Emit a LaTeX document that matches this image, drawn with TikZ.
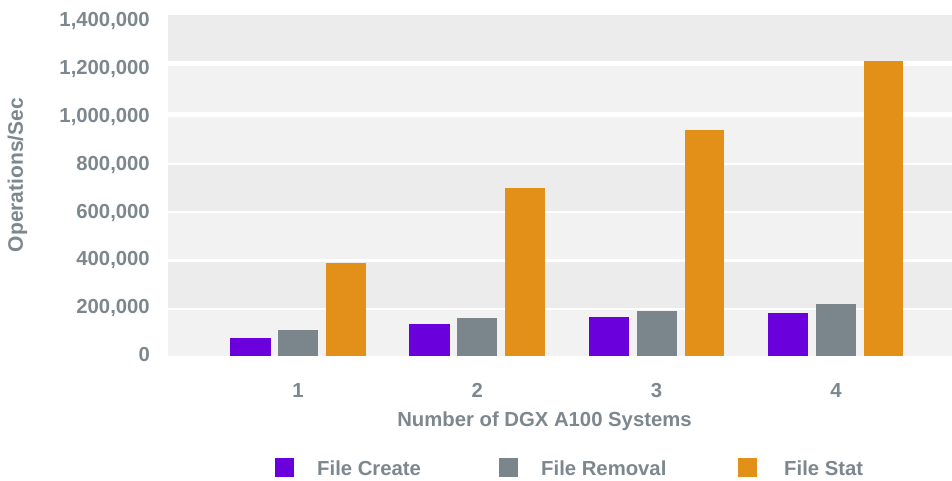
\documentclass[tikz,border=0pt]{standalone}
\usepackage{fontspec}
\setmainfont{Liberation Sans}
\definecolor{txtgray}{HTML}{7D888E}
\definecolor{bandA}{HTML}{ECECEC}
\definecolor{bandB}{HTML}{F2F2F2}
\definecolor{cCreate}{HTML}{6A00DC}
\definecolor{cRemove}{HTML}{7B868C}
\definecolor{cStat}{HTML}{E29017}
\tikzset{
  lbl/.style={font=\bfseries\fontsize{20.3}{22}\selectfont, text=txtgray, inner sep=0pt},
  ticklbl/.style={lbl, anchor=base east},
  legbox/.style={minimum width=19pt, minimum height=19pt, inner sep=0pt},
}
\begin{document}
\begin{tikzpicture}[x=1pt, y=-1pt]
\useasboundingbox (0,0) rectangle (952,481);
\fill[white] (0,0) rectangle (952,481);
% background bands between the grid values
\foreach \ya/\yb/\c in {15/61/bandA, 66/112/bandB, 117/163/bandB, 165/211/bandA,
                        213/259/bandB, 262/308/bandA, 310/356/bandB}
  \fill[\c] (168,\ya) rectangle (952,\yb);
% y tick labels
\foreach \v/\t in {0/0, 200/{200,000}, 400/{400,000}, 600/{600,000}, 800/{800,000},
                   1000/{1,000,000}, 1200/{1,200,000}, 1400/{1,400,000}}
  \node[ticklbl] (tick\v) at (150, {361.7 - \v*0.2393}) {\t};
\node[lbl, rotate=90, font=\bfseries\fontsize{21}{22}\selectfont] (ylab) at (17.5,175) {Operations/Sec};
% bars: file create, file removal, file stat (values in thousands)
\foreach \i/\a/\b/\c in {1/75/107/382, 2/131/156/690, 3/160/185/928, 4/177/214/1211} {
  \pgfmathsetmacro{\cx}{298 + (\i-1)*179.3}
  \fill[cCreate] (\cx-68,356) rectangle (\cx-27.5,{356-\a*0.243571});
  \fill[cRemove] (\cx-20,356) rectangle (\cx+20,{356-\b*0.243571});
  \fill[cStat]   (\cx+28,356) rectangle (\cx+67.5,{356-\c*0.243571});
  \node[lbl, anchor=base] (cat\i) at (\cx,397) {\i};
}
\node[lbl, anchor=base] (xlab) at (544.5,426.5) {Number of DGX A100 Systems};
% legend
\node[legbox, fill=cCreate] (legA) at (284,467.5) {};
\node[lbl, anchor=base west] (legAt) at (317,475) {File Create};
\node[legbox, fill=cRemove] (legB) at (508,467.5) {};
\node[lbl, anchor=base west] (legBt) at (541,475) {File Removal};
\node[legbox, fill=cStat] (legC) at (747,467.5) {};
\node[lbl, anchor=base west] (legCt) at (784,475) {File Stat};
\end{tikzpicture}
\end{document}
